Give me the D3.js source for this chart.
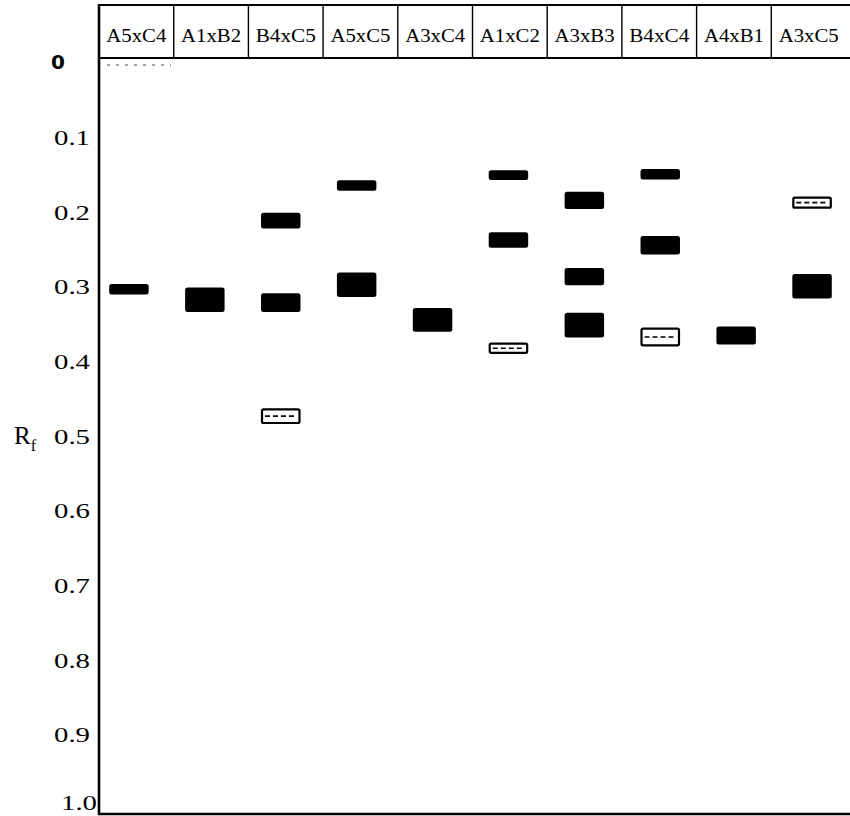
<!DOCTYPE html>
<html>
<head>
<meta charset="utf-8">
<title>Rf bands</title>
<script src="https://d3js.org/d3.v7.min.js"></script>
<style>
  body { margin: 0; background: #fff; }
  svg { display: block; }
  .serif { font-family: "Liberation Serif", "DejaVu Serif", serif; }
</style>
</head>
<body>
<script>
// crosses (lanes) in header order
var crosses = ["A5xC4", "A1xB2", "B4xC5", "A5xC5", "A3xC4", "A1xC2", "A3xB3", "B4xC4", "A4xB1", "A3xC5"];

// bands: lane, Rf centre, Rf thickness, kind
var bandLane = ["A5xC4", "A1xB2", "B4xC5", "B4xC5", "B4xC5", "A5xC5", "A5xC5", "A3xC4",
                "A1xC2", "A1xC2", "A1xC2", "A3xB3", "A3xB3", "A3xB3",
                "B4xC4", "B4xC4", "B4xC4", "A4xB1", "A3xC5", "A3xC5"];
var bandRf   = [0.305, 0.319, 0.213, 0.323, 0.475, 0.166, 0.299, 0.346,
                0.152, 0.239, 0.384, 0.186, 0.288, 0.353,
                0.151, 0.246, 0.369, 0.367, 0.189, 0.301];
var bandSpan = [0.014, 0.033, 0.021, 0.025, 0.021, 0.014, 0.033, 0.032,
                0.013, 0.021, 0.015, 0.023, 0.023, 0.033,
                0.014, 0.025, 0.025, 0.024, 0.016, 0.033];
var bandKind = ["solid", "solid", "solid", "solid", "faint", "solid", "solid", "solid",
                "solid", "solid", "faint", "solid", "solid", "solid",
                "solid", "solid", "faint", "solid", "faint", "solid"];

var rfTicks = [0.1, 0.2, 0.3, 0.4, 0.5, 0.6, 0.7, 0.8, 0.9, 1.0];

var bands = bandLane.map(function(d, i) {
    return {lane: d, rf: bandRf[i], span: bandSpan[i], kind: bandKind[i]};
});

var width = 850, height = 816;
var svg = d3.select("body").append("svg")
    .attr("width", width)
    .attr("height", height);

// scales
var y = d3.scaleLinear().domain([0, 1]).range([61.6, 808]);
var headX = d3.scaleBand().domain(crosses).range([99, 846]);
var laneX = d3.scaleBand().domain(crosses).range([91, 850]).paddingInner(0.48).paddingOuter(0.24);

var headTop = 5, headBottom = 58, axisBottom = 814;

// header row
var head = svg.append("g");
head.append("line")
    .attr("x1", 99).attr("x2", width)
    .attr("y1", headTop).attr("y2", headTop)
    .attr("stroke", "#000").attr("stroke-width", 2);
head.append("line")
    .attr("x1", 99).attr("x2", width)
    .attr("y1", headBottom).attr("y2", headBottom)
    .attr("stroke", "#000").attr("stroke-width", 2.2);
head.selectAll("line.div")
    .data(crosses.slice(1))
    .enter()
    .append("line")
    .attr("class", "div")
    .attr("x1", function(d) { return headX(d); })
    .attr("x2", function(d) { return headX(d); })
    .attr("y1", headTop).attr("y2", headBottom)
    .attr("stroke", "#000").attr("stroke-width", 1.4);
head.selectAll("text")
    .data(crosses)
    .enter()
    .append("text")
    .attr("class", "serif")
    .attr("x", function(d) { return headX(d) + headX.bandwidth() / 2; })
    .attr("y", 42)
    .attr("text-anchor", "middle")
    .attr("font-size", 19)
    .attr("textLength", 60)
    .attr("lengthAdjust", "spacingAndGlyphs")
    .text(function(d) { return d; });

// faint dotted start line under the first lane
svg.append("line")
    .attr("x1", headX(crosses[0]) + 8).attr("x2", headX(crosses[0]) + 72)
    .attr("y1", headBottom + 7).attr("y2", headBottom + 7)
    .attr("stroke", "#444").attr("stroke-width", 1)
    .attr("stroke-dasharray", "3,6");

// frame: left axis and bottom line
svg.append("line")
    .attr("x1", 99).attr("x2", 99)
    .attr("y1", headTop - 1).attr("y2", axisBottom + 1)
    .attr("stroke", "#000").attr("stroke-width", 2.6);
svg.append("line")
    .attr("x1", 98).attr("x2", width)
    .attr("y1", axisBottom).attr("y2", axisBottom)
    .attr("stroke", "#000").attr("stroke-width", 2.6);

// y axis labels
var yAxis = d3.axisLeft(y)
    .tickValues(rfTicks)
    .tickSize(0)
    .tickPadding(9)
    .tickFormat(d3.format(".1f"));
var ga = svg.append("g")
    .attr("transform", "translate(99,0)")
    .call(yAxis);
ga.select(".domain").remove();
ga.selectAll("text")
    .attr("class", "serif")
    .attr("font-size", 21)
    .attr("textLength", 36)
    .attr("lengthAdjust", "spacingAndGlyphs")
    .attr("fill", "#000")
    .attr("dx", function(d) { return d == 1 ? 7 : 0; })
    .attr("dy", function(d) { return d == 1 ? "0.05em" : "0.4em"; });

// origin label
svg.append("text")
    .attr("x", 58).attr("y", y(0) + 7)
    .attr("text-anchor", "middle")
    .attr("font-family", "DejaVu Sans, sans-serif")
    .attr("font-weight", "bold")
    .attr("font-size", 20)
    .text("0");

// Rf title
var rt = svg.append("text")
    .attr("class", "serif")
    .attr("x", 14).attr("y", y(0.5) + 9)
    .attr("font-size", 25);
rt.append("tspan").text("R");
rt.append("tspan").attr("font-size", 16).attr("dy", 7).text("f");

// bands
var g = svg.append("g");
var solid = bands.filter(function(d) { return d.kind == "solid"; });
var faint = bands.filter(function(d) { return d.kind == "faint"; });

g.selectAll("rect.solid")
    .data(solid)
    .enter()
    .append("rect")
    .attr("class", "solid")
    .attr("x", function(d) { return laneX(d.lane); })
    .attr("y", function(d) { return y(d.rf - d.span / 2); })
    .attr("width", laneX.bandwidth())
    .attr("height", function(d) { return y(d.rf + d.span / 2) - y(d.rf - d.span / 2); })
    .attr("rx", 2.5)
    .attr("fill", "#000");

g.selectAll("rect.faint")
    .data(faint)
    .enter()
    .append("rect")
    .attr("class", "faint")
    .attr("x", function(d) { return laneX(d.lane) + 1; })
    .attr("y", function(d) { return y(d.rf - d.span / 2) + 1; })
    .attr("width", laneX.bandwidth() - 2)
    .attr("height", function(d) { return y(d.rf + d.span / 2) - y(d.rf - d.span / 2) - 2; })
    .attr("rx", 1.5)
    .attr("fill", "#fff")
    .attr("stroke", "#000")
    .attr("stroke-width", 2.2);

g.selectAll("line.faint")
    .data(faint)
    .enter()
    .append("line")
    .attr("class", "faint")
    .attr("x1", function(d) { return laneX(d.lane) + 4; })
    .attr("x2", function(d) { return laneX(d.lane) + laneX.bandwidth() - 4; })
    .attr("y1", function(d) { return y(d.rf); })
    .attr("y2", function(d) { return y(d.rf); })
    .attr("stroke", "#000")
    .attr("stroke-width", 1.6)
    .attr("stroke-dasharray", "5,3");
</script>
</body>
</html>
